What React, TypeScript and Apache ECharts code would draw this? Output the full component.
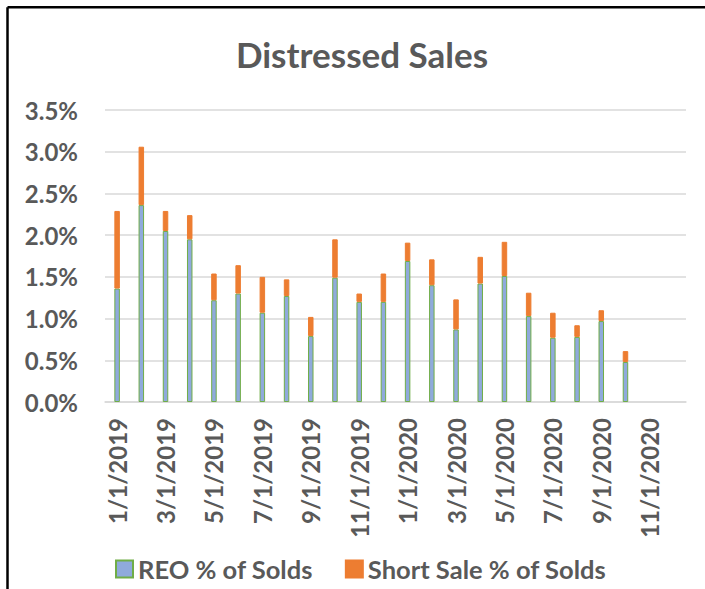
import React, { useEffect, useRef } from "react";
import * as echarts from "echarts";

const categories: string[] = [
  "1/1/2019", "2/1/2019", "3/1/2019", "4/1/2019", "5/1/2019", "6/1/2019",
  "7/1/2019", "8/1/2019", "9/1/2019", "10/1/2019", "11/1/2019", "12/1/2019",
  "1/1/2020", "2/1/2020", "3/1/2020", "4/1/2020", "5/1/2020", "6/1/2020",
  "7/1/2020", "8/1/2020", "9/1/2020", "10/1/2020", "11/1/2020", "12/1/2020",
];

const reoPct: (number | null)[] = [
  1.36, 2.36, 2.05, 1.95, 1.22, 1.3, 1.07, 1.27, 0.79, 1.49, 1.2, 1.2,
  1.69, 1.4, 0.87, 1.42, 1.51, 1.03, 0.77, 0.78, 0.97, 0.48, null, null,
];

const shortSalePct: (number | null)[] = [
  0.93, 0.7, 0.24, 0.29, 0.32, 0.34, 0.43, 0.2, 0.23, 0.46, 0.1, 0.34,
  0.22, 0.31, 0.36, 0.32, 0.41, 0.28, 0.3, 0.14, 0.13, 0.13, null, null,
];

const FONT = "Lato";
const TEXT = "#595959";

export default function App() {
  const ref = useRef<HTMLDivElement>(null);

  useEffect(() => {
    if (!ref.current) return;
    const chart = echarts.init(ref.current, undefined, { renderer: "svg" });
    chart.setOption({
      animation: false,
      backgroundColor: "#ffffff",
      title: {
        text: "Distressed Sales",
        left: 357,
        textAlign: "center",
        top: 31,
        textStyle: { fontFamily: FONT, fontWeight: "bold", fontSize: 35, color: TEXT },
      },
      grid: { left: 105, right: 19, top: 110, bottom: 187, containLabel: false },
      legend: {
        left: 110,
        top: 551,
        icon: "rect",
        itemWidth: 17,
        itemHeight: 17,
        itemGap: 32,
        textStyle: { fontFamily: FONT, fontWeight: "bold", fontSize: 25.5, color: TEXT },
        data: ["REO % of Solds", "Short Sale % of Solds"],
      },
      xAxis: {
        type: "category",
        data: categories,
        axisLine: { lineStyle: { color: "#D9D9D9", width: 1.5 } },
        axisTick: { show: false },
        axisLabel: {
          interval: 1,
          rotate: 90,
          margin: 16,
          fontFamily: FONT,
          fontWeight: "bold",
          fontSize: 24,
          color: TEXT,
        },
      },
      yAxis: {
        type: "value",
        min: 0,
        max: 3.5,
        interval: 0.5,
        axisLine: { show: false },
        axisTick: { show: false },
        splitLine: { lineStyle: { color: "#D9D9D9", width: 1.5 } },
        axisLabel: {
          margin: 27,
          formatter: (v: number) => v.toFixed(1) + "%",
          fontFamily: FONT,
          fontWeight: "bold",
          fontSize: 24,
          color: TEXT,
        },
      },
      series: [
        {
          name: "REO % of Solds",
          type: "bar",
          stack: "total",
          barWidth: 5.5,
          data: reoPct,
          itemStyle: { color: "#8FAADC", borderColor: "#70AD47", borderWidth: 1 },
        },
        {
          name: "Short Sale % of Solds",
          type: "bar",
          stack: "total",
          barWidth: 5.5,
          data: shortSalePct,
          itemStyle: { color: "#ED7D31", borderColor: "#ED7D31", borderWidth: 1 },
        },
      ],
      graphic: [
        {
          type: "line",
          shape: { x1: 7.5, y1: 7.3, x2: 705, y2: 7.3 },
          style: { stroke: "#000000", lineWidth: 2.5 },
        },
        {
          type: "line",
          shape: { x1: 7.5, y1: 7.3, x2: 7.5, y2: 589 },
          style: { stroke: "#000000", lineWidth: 2.5 },
        },
      ],
    });
    return () => chart.dispose();
  }, []);

  return (
    <div
      ref={ref}
      style={{ position: "fixed", left: 0, top: 0, width: 705, height: 589 }}
    />
  );
}
